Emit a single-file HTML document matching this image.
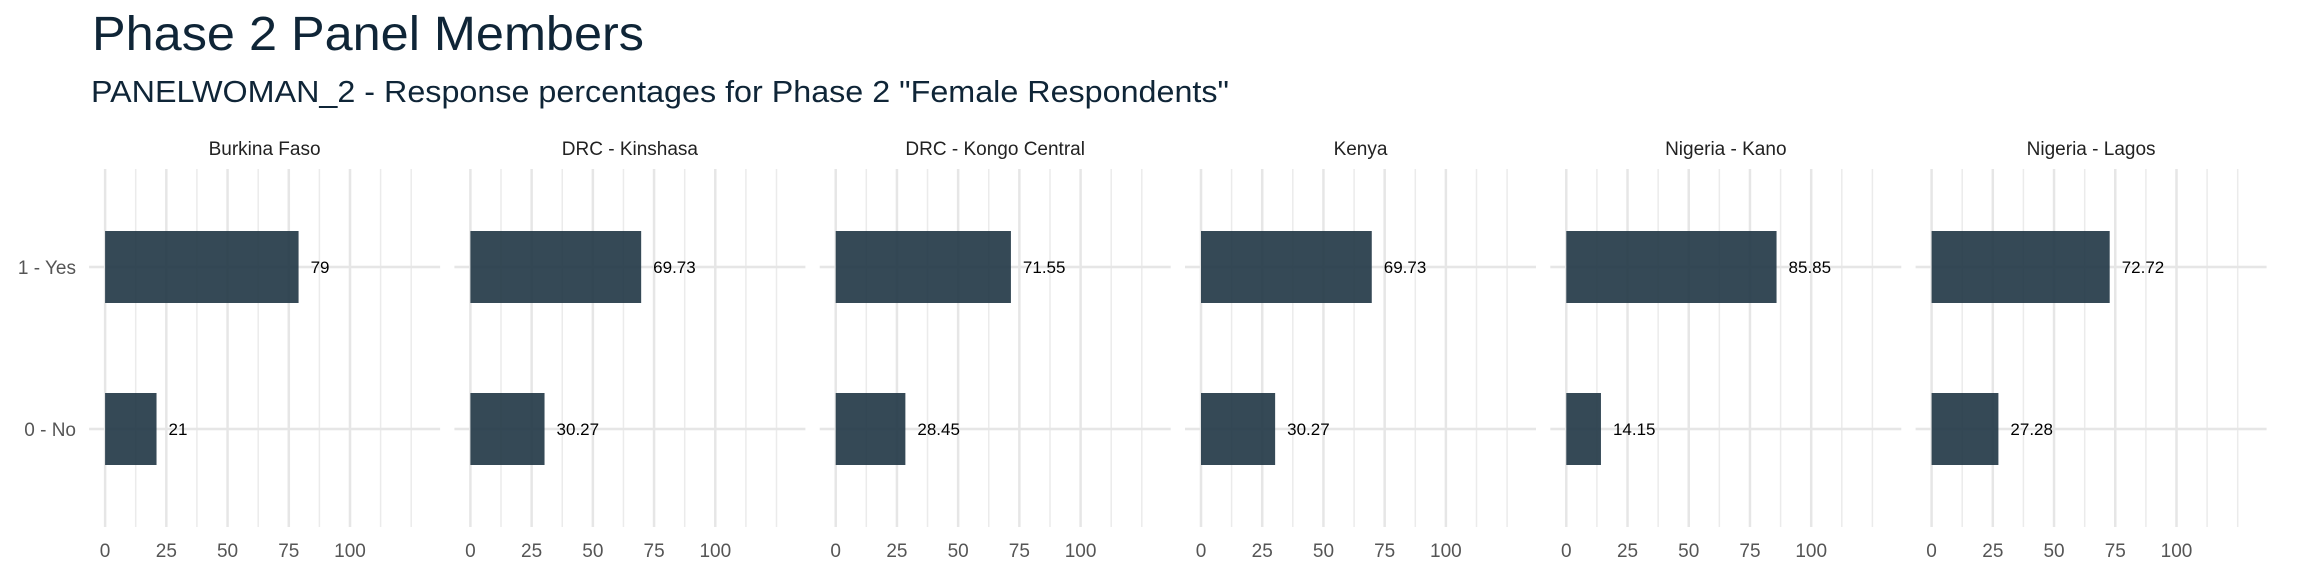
<!DOCTYPE html>
<html><head><meta charset="utf-8">
<style>
html,body{margin:0;padding:0;background:#fff;}
svg{display:block;}
text{font-family:"Liberation Sans","DejaVu Sans",sans-serif;}
</style></head>
<body>
<svg id="chart" width="2304" height="576" viewBox="0 0 2304 576" xmlns="http://www.w3.org/2000/svg">
  <text x="92" y="50" font-size="48" fill="#0f2537" textLength="552" lengthAdjust="spacingAndGlyphs">Phase 2 Panel Members</text>
  <text x="91" y="102" font-size="31" fill="#0f2537" textLength="1138" lengthAdjust="spacingAndGlyphs">PANELWOMAN_2 - Response percentages for Phase 2 "Female Respondents"</text>
  <g id="panels"></g>
</svg>
<script>
const facets = ["Burkina Faso","DRC - Kinshasa","DRC - Kongo Central","Kenya","Nigeria - Kano","Nigeria - Lagos"];
const categories = ["1 - Yes","0 - No"];
const yesValues = [79, 69.73, 71.55, 69.73, 85.85, 72.72];
const noValues = [21, 30.27, 28.45, 30.27, 14.15, 27.28];
const yesLabels = ["79","69.73","71.55","69.73","85.85","72.72"];
const noLabels = ["21","30.27","28.45","30.27","14.15","27.28"];
const xTicks = [0,25,50,75,100];
const minorTicks = [12.5,37.5,62.5,87.5,112.5,125];

const NS="http://www.w3.org/2000/svg";
const g=document.getElementById('panels');
const panelStep=365.3, x0=105.1, pxPerUnit=244.9/100;
const gridTop=169, gridBottom=527;
const catY={"1 - Yes":267,"0 - No":429};
const barH=72;
function xScale(p,v){return x0+p*panelStep+v*pxPerUnit;}
function mk(tag,attrs){const e=document.createElementNS(NS,tag);for(const k in attrs)e.setAttribute(k,attrs[k]);return e;}

facets.forEach((f,p)=>{
  const pg=mk('g',{});
  
  
  g.appendChild(pg);
  const left=xScale(p,0)-16, right=xScale(p,0)+335;
  minorTicks.forEach(t=>{
    const l=mk('line',{x1:xScale(p,t),x2:xScale(p,t),y1:gridTop,y2:gridBottom,stroke:'#ebebeb','stroke-width':1.5});
    
    
    pg.appendChild(l);
  });
  xTicks.forEach(t=>{
    const l=mk('line',{x1:xScale(p,t),x2:xScale(p,t),y1:gridTop,y2:gridBottom,stroke:'#e6e6e6','stroke-width':2.5});
    
    
    pg.appendChild(l);
    const tx=mk('text',{x:xScale(p,t),y:557,'font-size':19,fill:'#555','text-anchor':'middle'});
    tx.textContent=t;
    
    
    pg.appendChild(tx);
  });
  categories.forEach(c=>{
    const l=mk('line',{x1:left,x2:right,y1:catY[c],y2:catY[c],stroke:'#e6e6e6','stroke-width':2.5});
    
    
    pg.appendChild(l);
  });
  const ft=mk('text',{x:(left+right)/2,y:155,'font-size':19,fill:'#222','text-anchor':'middle'});
  ft.textContent=f;
  
  
  pg.appendChild(ft);
  [[categories[0],yesValues[p],yesLabels[p]],[categories[1],noValues[p],noLabels[p]]].forEach(([c,v,lab])=>{
    const r=mk('rect',{x:xScale(p,0),y:catY[c]-barH/2,width:xScale(p,v)-xScale(p,0),height:barH,fill:'#1f3544','fill-opacity':0.9});
    
    
    pg.appendChild(r);
    const t=mk('text',{x:xScale(p,v)+12,y:catY[c]+6,'font-size':17,fill:'#000'});
    t.textContent=lab;
    
    
    pg.appendChild(t);
  });
});
categories.forEach(c=>{
  const t=mk('text',{x:76,y:catY[c]+7,'font-size':19,fill:'#555','text-anchor':'end'});
  t.textContent=c;
  
  
  g.appendChild(t);
});
</script>
</body></html>
